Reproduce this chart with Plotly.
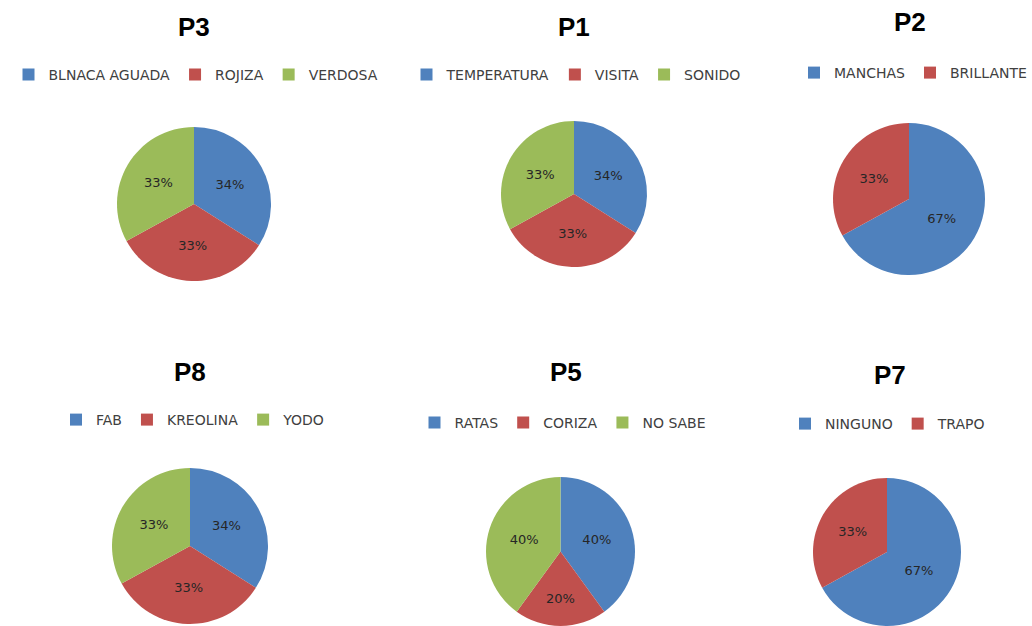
import plotly.graph_objects as go

# ---- data ----
titles = ["P3", "P1", "P2", "P8", "P5", "P7"]
labels_p3 = ["BLNACA AGUADA", "ROJIZA", "VERDOSA"]
values_p3 = [34, 33, 33]
labels_p1 = ["TEMPERATURA", "VISITA", "SONIDO"]
values_p1 = [34, 33, 33]
labels_p2 = ["MANCHAS", "BRILLANTE"]
values_p2 = [67, 33]
labels_p8 = ["FAB", "KREOLINA", "YODO"]
values_p8 = [34, 33, 33]
labels_p5 = ["RATAS", "CORIZA", "NO SABE"]
values_p5 = [40, 20, 40]
labels_p7 = ["NINGUNO", "TRAPO"]
values_p7 = [67, 33]

colors = ["#4F81BD", "#C0504D", "#9BBB59"]

W, H = 1032, 626

# layout (pixel boxes) for each pie: x0, x1, y0, y1 (top-left origin)
pie_boxes = [
    (117, 271, 127, 281),
    (501, 647, 121, 267),
    (833, 985, 123, 275),
    (112, 268, 468, 624),
    (478, 643, 477, 626),
    (805, 969, 478, 626),
]
title_pos = [(194, 27), (574, 27), (910, 22), (190, 372), (566, 372), (890, 375)]
legend_pos = [(196, 75), (576, 75), (913, 73), (193, 420), (563, 423), (888, 424)]

data = [
    (labels_p3, values_p3),
    (labels_p1, values_p1),
    (labels_p2, values_p2),
    (labels_p8, values_p8),
    (labels_p5, values_p5),
    (labels_p7, values_p7),
]

fig = go.Figure()
layout_extra = {}
annotations = []
for i, ((labs, vals), box, tpos, lpos, ttl) in enumerate(
    zip(data, pie_boxes, title_pos, legend_pos, titles)
):
    lname = "legend" if i == 0 else f"legend{i+1}"
    x0, x1, y0, y1 = box
    fig.add_trace(
        go.Pie(
            labels=labs,
            values=vals,
            sort=False,
            direction="clockwise",
            rotation=0,
            marker=dict(colors=colors[: len(labs)], line=dict(width=0)),
            texttemplate="%{percent:.0%}",
            textposition="inside",
            insidetextorientation="horizontal",
            textfont=dict(family="DejaVu Sans", size=13, color="#262626"),
            domain=dict(x=[x0 / W, x1 / W], y=[1 - y1 / H, 1 - y0 / H]),
            legend=lname,
            hoverinfo="label+percent",
        )
    )
    layout_extra[lname] = dict(
        orientation="h",
        x=lpos[0] / W,
        y=1 - lpos[1] / H,
        xanchor="center",
        yanchor="middle",
        font=dict(family="DejaVu Sans", size=14, color="#404040"),
        bgcolor="rgba(0,0,0,0)",
        itemclick=False,
        itemdoubleclick=False,
    )
    annotations.append(
        dict(
            text=f"<b>{ttl}</b>",
            x=tpos[0] / W,
            y=1 - tpos[1] / H,
            xref="paper",
            yref="paper",
            xanchor="center",
            yanchor="middle",
            showarrow=False,
            font=dict(family="Liberation Sans", size=26, color="#000000"),
        )
    )

fig.update_layout(
    width=W,
    height=H,
    margin=dict(l=0, r=0, t=0, b=0),
    paper_bgcolor="white",
    plot_bgcolor="white",
    showlegend=True,
    annotations=annotations,
    **layout_extra,
)

fig.write_html("out.html")
